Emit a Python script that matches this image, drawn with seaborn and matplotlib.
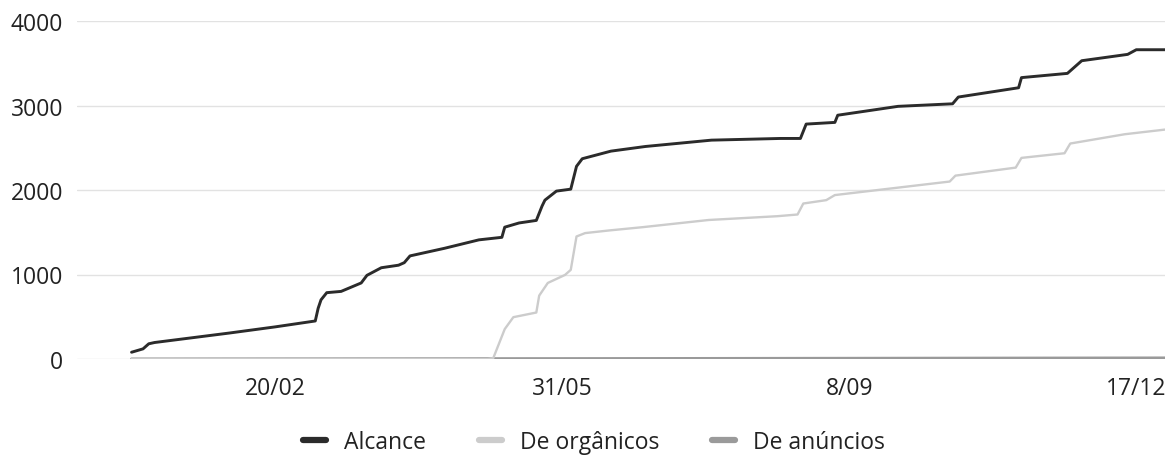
import matplotlib
matplotlib.use("Agg")
import matplotlib.pyplot as plt
import seaborn as sns
import pandas as pd

# ---- data ----
alcance_dates = ["2023-01-01", "2023-01-05", "2023-01-07", "2023-01-09", "2023-02-04",
                 "2023-02-20", "2023-03-06", "2023-03-07", "2023-03-08", "2023-03-10",
                 "2023-03-15", "2023-03-22", "2023-03-24", "2023-03-29", "2023-04-04",
                 "2023-04-06", "2023-04-08", "2023-04-20", "2023-05-02", "2023-05-10",
                 "2023-05-11", "2023-05-16", "2023-05-22", "2023-05-24", "2023-05-25",
                 "2023-05-29", "2023-06-03", "2023-06-05", "2023-06-07", "2023-06-17",
                 "2023-06-29", "2023-07-22", "2023-08-15", "2023-08-22", "2023-08-24",
                 "2023-09-03", "2023-09-04", "2023-09-25", "2023-10-14", "2023-10-16",
                 "2023-11-06", "2023-11-07", "2023-11-23", "2023-11-28", "2023-12-14",
                 "2023-12-17", "2023-12-27"]
alcance_values = [80, 120, 180, 195, 307,
                  380, 450, 600, 700, 785,
                  800, 900, 990, 1080, 1110,
                  1140, 1220, 1310, 1410, 1440,
                  1560, 1610, 1640, 1810, 1880,
                  1987, 2010, 2280, 2370, 2460,
                  2515, 2590, 2610, 2610, 2780,
                  2800, 2885, 2990, 3020, 3100,
                  3210, 3330, 3380, 3530, 3605,
                  3660, 3660]

organicos_dates = ["2023-01-01", "2023-05-05", "2023-05-07", "2023-05-11", "2023-05-14",
                   "2023-05-22", "2023-05-23", "2023-05-26", "2023-06-01", "2023-06-03",
                   "2023-06-05", "2023-06-08", "2023-06-16", "2023-06-28", "2023-07-21",
                   "2023-08-14", "2023-08-21", "2023-08-23", "2023-08-31", "2023-09-03",
                   "2023-10-13", "2023-10-15", "2023-11-05", "2023-11-07", "2023-11-22",
                   "2023-11-24", "2023-12-13", "2023-12-27"]
organicos_values = [0, 0, 10, 354, 495,
                    550, 750, 900, 995, 1055,
                    1450, 1490, 1520, 1560, 1645,
                    1690, 1710, 1840, 1880, 1940,
                    2100, 2170, 2265, 2380, 2435,
                    2550, 2660, 2715]

anuncios_dates = ["2023-01-01", "2023-07-01", "2023-12-27"]
anuncios_values = [0, 5, 12]

series_names = ["Alcance", "De orgânicos", "De anúncios"]
series_colors = ["#2b2b2b", "#cccccc", "#9a9a9a"]

tick_dates = ["2023-02-20", "2023-05-31", "2023-09-08", "2023-12-17"]
tick_labels = ["20/02", "31/05", "8/09", "17/12"]
y_ticks = [0, 1000, 2000, 3000, 4000]

# ---- build table ----
frames = []
for name, d, v in zip(series_names,
                      [alcance_dates, organicos_dates, anuncios_dates],
                      [alcance_values, organicos_values, anuncios_values]):
    frames.append(pd.DataFrame({"data": pd.to_datetime(d), "valor": v, "serie": name}))
df = pd.concat(frames, ignore_index=True)

sns.set_theme(style="white")
plt.rcParams["font.family"] = ["Open Sans", "DejaVu Sans"]

fig = plt.figure(figsize=(11.65, 4.56), dpi=100)
ax = fig.add_axes([77 / 1165, 1 - 360 / 456, 1 - 77 / 1165, (360 - 22) / 456])

draw_order = ["De anúncios", "De orgânicos", "Alcance"]
widths = {"Alcance": 2.1, "De orgânicos": 1.7, "De anúncios": 2.2}
palette = dict(zip(series_names, series_colors))
for name in draw_order:
    sub = df[df["serie"] == name]
    sns.lineplot(data=sub, x="data", y="valor", ax=ax, color=palette[name],
                 linewidth=widths[name], estimator=None, label=name, zorder=3)

ax.set_ylim(0, 4000)
ax.set_xlim(pd.Timestamp("2022-12-13"), pd.Timestamp("2023-12-27"))
ax.set_yticks(y_ticks)
ax.set_yticklabels([str(t) for t in y_ticks])
ax.set_xticks(pd.to_datetime(tick_dates))
ax.set_xticklabels(tick_labels)
ax.set_xlabel("")
ax.set_ylabel("")
ax.grid(axis="y", color="#e2e2e2", linewidth=1.0)
ax.grid(axis="x", visible=False)
for s in ax.spines.values():
    s.set_visible(False)
ax.tick_params(axis="y", length=0, pad=10, labelsize=16.5, labelcolor="#222222")
ax.tick_params(axis="x", length=0, pad=12, labelsize=16.5, labelcolor="#222222")

ax.get_legend().remove()
handles = [plt.Line2D([0], [0], color=c, linewidth=4.5, solid_capstyle="round")
           for c in series_colors]
fig.legend(handles, series_names, loc="center", bbox_to_anchor=(0.51, 1 - 443 / 456),
           ncol=3, frameon=False, fontsize=16.5, handlelength=1.0, handletextpad=0.8,
           columnspacing=2.3, labelcolor="#222222")

fig.savefig("out.png", dpi=100, facecolor="white")
